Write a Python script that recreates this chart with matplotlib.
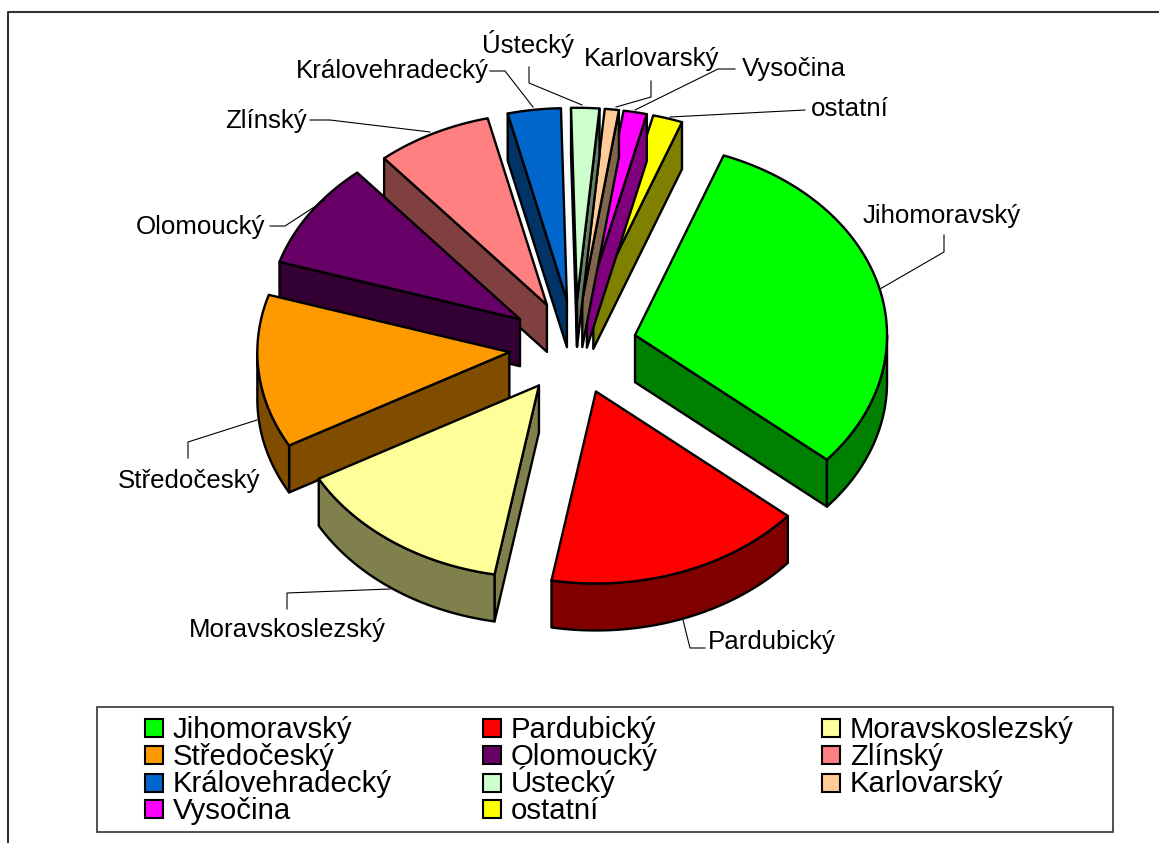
import numpy as np
import matplotlib
matplotlib.use("Agg")
import matplotlib.pyplot as plt
from matplotlib.patches import Rectangle

plt.rcParams["font.family"] = ["Liberation Sans", "DejaVu Sans"]

# Data
regions = ["Jihomoravský", "Pardubický", "Moravskoslezský", "Středočeský", "Olomoucký",
           "Zlínský", "Královehradecký", "Ústecký", "Karlovarský", "Vysočina", "ostatní"]
shares = [30.5, 16.6, 14.1, 12.9, 9.0, 7.4, 3.4, 1.8, 0.9, 1.5, 1.9]
colors = ["#00FF00", "#FF0000", "#FFFF99", "#FF9900", "#660066", "#FF8080",
          "#0066CC", "#CCFFCC", "#FFCC99", "#FF00FF", "#FFFF00"]

# Pie geometry in pixels
cx, cy = 575, 347
rx, ry = 252, 192
explode = [62, 62, 62, 66, 66, 62, 62, 62, 62, 62, 62]
depth = 47
start_angle = 20.6

# Leader lines and label places (x centre, baseline)
label_xy = [(942, 223), (771.5, 649), (287, 637), (189, 488), (200.5, 234), (266.5, 128),
            (392, 78), (528, 53), (652, 66), (793.5, 76), (850, 116)]
leaders = [[(944, 235), (944, 252), (880, 289)],
           [(683, 620), (690, 648), (705, 648)],
           [(287, 609), (287, 593), (390, 589)],
           [(188, 458), (188, 442), (257, 420)],
           [(270, 226), (285, 226), (325, 200)],
           [(310, 120), (330, 120), (430, 132)],
           [(490, 71), (505, 71), (533, 107)],
           [(529, 67), (529, 83), (582, 105)],
           [(651, 81), (651, 97), (616, 107)],
           [(735, 69), (718, 69), (635, 110)],
           [(805, 110), (670, 117)]]

fig = plt.figure(figsize=(11.59, 8.43), dpi=100)
ax = fig.add_axes([0, 0, 1, 1])
ax.set_xlim(0, 1159)
ax.set_ylim(843, 0)
ax.axis("off")

# Outer chart border, runs off the picture on the right and bottom
ax.plot([8, 8, 1159], [843, 12, 12], color="#333333", lw=1.5)


def dark(c):
    return tuple(v * 0.5 for v in matplotlib.colors.to_rgb(c))


def point(ang):
    a = np.radians(ang)
    return rx * np.sin(a), -ry * np.cos(a)


def draw_slice(a1, a2, color, out):
    mid = np.radians((a1 + a2) / 2)
    x0 = cx + out * np.sin(mid)
    y0 = cy - out * ry / rx * np.cos(mid)
    side = dark(color)

    # flat cut faces, only the ones that turn toward the viewer
    for ang, sign in [(a1, -1), (a2, 1)]:
        dx, dy = point(ang)
        if sign * dx > 0:
            xs = [x0, x0 + dx, x0 + dx, x0]
            ys = [y0, y0 + dy, y0 + dy + depth, y0 + depth]
            ax.fill(xs, ys, facecolor=side, edgecolor="black", lw=1.7, joinstyle="round")

    # outer rim for the front half of the pie
    for lo, hi in [(90, 270), (450, 630)]:
        r1, r2 = max(a1, lo), min(a2, hi)
        if r2 > r1:
            t = np.linspace(r1, r2, 60)
            px, py = point(t)
            xs = np.r_[x0 + px, (x0 + px)[::-1]]
            ys = np.r_[y0 + py, (y0 + py + depth)[::-1]]
            ax.fill(xs, ys, facecolor=side, edgecolor="black", lw=1.7, joinstyle="round")

    # top face
    t = np.linspace(a1, a2, 80)
    px, py = point(t)
    ax.fill(np.r_[x0, x0 + px], np.r_[y0, y0 + py], facecolor=color, edgecolor="black",
            lw=1.7, joinstyle="round")


edges = start_angle + np.r_[0, np.cumsum(shares)] * 360 / sum(shares)
# last slices first, so each slice lies over the one clockwise of it
for i in range(len(shares) - 1, -1, -1):
    draw_slice(edges[i], edges[i + 1], colors[i], explode[i])

# Labels with leader lines
for name, (tx, ty), line in zip(regions, label_xy, leaders):
    ax.text(tx, ty, name, fontsize=18.6, ha="center", va="baseline", color="black")
    ax.plot([p[0] for p in line], [p[1] for p in line], color="black", lw=0.8)

# Legend, filled row by row
ax.add_patch(Rectangle((97, 707), 1016, 125, facecolor="white", edgecolor="#333333", lw=1.2))
col_x = [145, 483, 822]
row_y = [738, 765, 792.5, 819]
for i, name in enumerate(regions):
    lx = col_x[i % 3]
    ly = row_y[i // 3]
    ax.add_patch(Rectangle((lx, ly - 19), 18, 18, facecolor=colors[i], edgecolor="black", lw=1.5))
    ax.text(lx + 28, ly, name, fontsize=21.2, ha="left", va="baseline", color="black")

plt.savefig("out.png", dpi=100)
